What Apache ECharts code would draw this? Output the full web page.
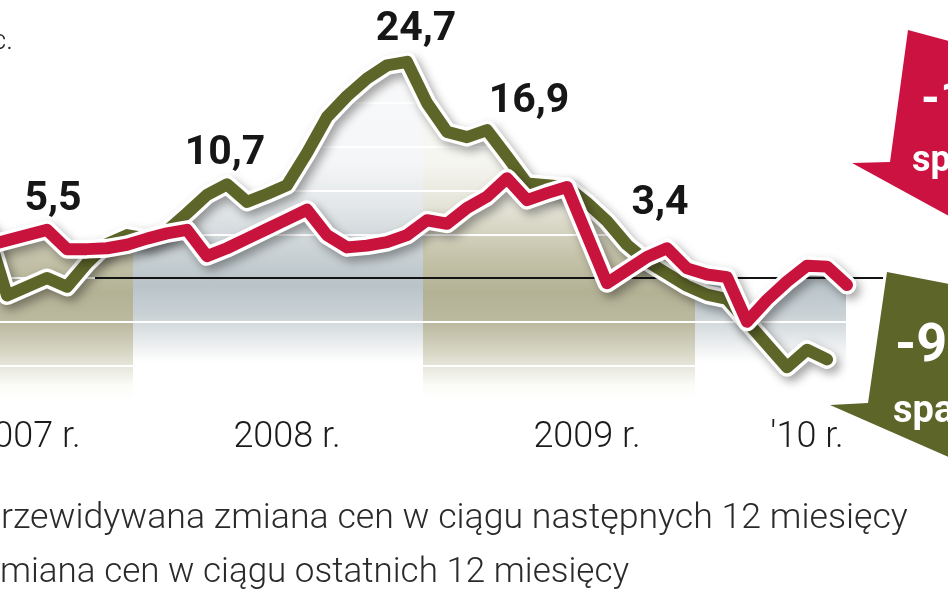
<!DOCTYPE html>
<html lang="pl">
  <head>
    <meta charset="UTF-8" />
    <title>Zmiana cen</title>
    <style>
      html, body { margin: 0; padding: 0; background: #fff; }
      #chart { width: 948px; height: 593px; }
    </style>
  </head>
  <body>
    <div id="chart"></div>
    <script src="https://cdn.jsdelivr.net/npm/echarts@6.0.0/dist/echarts.min.js"></script>
    <script>
      // wartości, kolejne miesiące (proc.)
      var oliveLine = [
        5.5, -2.0, -1.0, 0.0, -1.0, 1.7, 3.9, 4.9, 4.5, 5.4, 7.4, 9.5, 10.7,
        8.7, 9.6, 10.6, 14.3, 18.4, 20.8, 22.8, 24.3, 24.7, 20.0, 16.7, 16.1,
        16.9, 13.9, 10.8, 10.6, 10.4, 8.6, 6.5, 3.8, 1.9, 0.5, -0.9, -1.9,
        -2.4, -5.0, -7.6, -10.2, -8.2, -9.3
      ];
      var redLine = [
        3.7, 4.3, 4.9, 5.5, 3.3, 3.3, 3.4, 3.8, 4.5, 5.1, 5.5, 2.5, 3.4, 4.5,
        5.6, 6.7, 7.8, 4.9, 3.5, 3.7, 4.1, 4.9, 6.6, 6.2, 8.0, 9.3, 11.4, 8.9,
        9.7, 10.4, 4.9, -0.6, 0.9, 2.4, 3.4, 1.1, 0.4, 0.1, -5.0, -2.5, -0.4,
        1.4, 1.3, -0.8
      ];
      var yearLabels = ["2007 r.", "2008 r.", "2009 r.", "'10 r."];
      var yearLabelAt = [2, 15, 30, 41];
      // granice pasów tła (w numerach miesięcy)
      var bandEdges = [0, 7.3, 21.8, 35.4, 42.95];
      var zeroLineSpan = [5.4, 44.8];
      // opisane punkty
      var oliveMarked = [12, 21, 25];
      var redMarked = [3, 34];

      var OLIVE = "#5d6529";
      var RED = "#c8143c";

      // przesunięcia podpisów (styl, nie dane)
      var labelPos = {
        "olive-12": { dx: -2, dist: 10 },
        "olive-21": { dx: 9, dist: 11 },
        "olive-25": { dx: 42, dist: 7 },
        "red-3": { dx: 6, dist: 9 },
        "red-34": { dx: -7, dist: 24 }
      };

      function fmt(v) {
        return v.toFixed(1).replace(".", ",");
      }

      function buildData(values, key, marked) {
        return values.map(function (v, i) {
          if (marked.indexOf(i) < 0) return [i, v];
          var p = labelPos[key + "-" + i];
          return {
            value: [i, v],
            symbol: "circle",
            symbolSize: 1,
            label: {
              show: true,
              position: "top",
              distance: p.dist,
              offset: [p.dx, 0],
              formatter: function () { return fmt(v); },
              color: "#161616",
              fontFamily: "Roboto",
              fontWeight: "bold",
              fontSize: 41
            }
          };
        });
      }

      // górna obwiednia obu linii - powyżej niej tło jest białe
      var envelope = redLine.map(function (r, i) {
        var o = oliveLine[i];
        return [i, o === undefined ? r : Math.max(r, o)];
      });

      var labelMap = {};
      yearLabelAt.forEach(function (at, k) { labelMap[at] = yearLabels[k]; });

      function grad(stops) {
        return {
          type: "linear", x: 0, y: 0, x2: 0, y2: 1,
          colorStops: stops.map(function (s) { return { offset: s[0], color: s[1] }; })
        };
      }
      var oliveFill = grad([
        [0, "#fbfbf9"], [0.38, "#f6f6f1"], [0.5, "#e4e3d7"], [0.62, "#c6c4ab"],
        [0.72, "#b4b295"], [0.8, "#bbb99f"], [0.88, "#dad9c9"], [0.96, "#fbfbf8"], [1, "#ffffff"]
      ]);
      var blueFill = grad([
        [0, "#fbfbfc"], [0.38, "#f5f6f7"], [0.5, "#e2e6e8"], [0.62, "#c9d1d4"],
        [0.7, "#b9c3c8"], [0.78, "#cad2d6"], [0.86, "#eef0f1"], [0.9, "#ffffff"], [1, "#ffffff"]
      ]);

      var bands = [];
      for (var b = 0; b < bandEdges.length - 1; b++) {
        bands.push([
          { xAxis: bandEdges[b], yAxis: 30, itemStyle: { color: b % 2 ? blueFill : oliveFill } },
          { xAxis: bandEdges[b + 1], yAxis: -14 }
        ]);
      }

      var halo = {
        color: "#ffffff",
        width: 19,
        cap: "round",
        join: "round",
        shadowColor: "rgba(0,0,0,0.35)",
        shadowBlur: 10,
        shadowOffsetX: 4,
        shadowOffsetY: 5
      };

      var myChart = echarts.init(document.getElementById("chart"));
      var option = {
        animation: false,
        grid: {
          left: -13, right: 21, top: 15.5, bottom: 183.75,
          containLabel: false,
          outerBoundsMode: "none"
        },
        xAxis: {
          type: "value",
          min: 0,
          max: 47,
          interval: 1,
          axisLine: { show: false },
          axisTick: { show: false },
          splitLine: { show: false },
          axisLabel: {
            margin: 11,
            color: "#1b1b1b",
            fontFamily: "Roboto",
            fontWeight: 300,
            fontSize: 36,
            showMinLabel: true,
            showMaxLabel: true,
            formatter: function (v) { return labelMap[v] || ""; }
          }
        },
        yAxis: {
          type: "value",
          min: -15,
          max: 30,
          interval: 5,
          z: 2,
          axisLine: { show: false },
          axisTick: { show: false },
          axisLabel: { show: false },
          splitLine: { lineStyle: { color: "#ffffff", width: 2 } }
        },
        series: [
          {
            name: "tlo",
            type: "line",
            z: 3,
            data: envelope,
            symbol: "none",
            clip: false,
            lineStyle: { width: 0, opacity: 0 },
            areaStyle: { color: "#ffffff", opacity: 1, origin: "end" },
            markArea: { z: 1, silent: true, data: bands },
            markLine: {
              z: 6,
              silent: true,
              symbol: "none",
              label: { show: false },
              lineStyle: { color: "#141414", width: 2, type: "solid" },
              data: [[{ coord: [zeroLineSpan[0], 0] }, { coord: [zeroLineSpan[1], 0] }]]
            }
          },
          {
            type: "line",
            z: 10,
            data: buildData(oliveLine, "none", []),
            symbol: "none",
            clip: false,
            lineStyle: halo
          },
          {
            type: "line",
            z: 11,
            data: buildData(oliveLine, "olive", oliveMarked),
            symbol: "none",
            clip: false,
            itemStyle: { color: OLIVE },
            lineStyle: { color: OLIVE, width: 12, cap: "round", join: "round" }
          },
          {
            type: "line",
            z: 12,
            data: buildData(redLine, "none", []),
            symbol: "none",
            clip: false,
            lineStyle: halo
          },
          {
            type: "line",
            z: 13,
            data: buildData(redLine, "red", redMarked),
            symbol: "none",
            clip: false,
            itemStyle: { color: RED },
            lineStyle: { color: RED, width: 12, cap: "round", join: "round" }
          }
        ],
        graphic: [
          {
            type: "text", x: 13, y: 42, z: 20,
            style: { text: "w proc.", align: "right", verticalAlign: "middle",
              font: "300 28px Roboto", fill: "#222" }
          },
          {
            type: "text", x: -21, y: 519, z: 20,
            style: { text: "Przewidywana zmiana cen w ciągu następnych 12 miesięcy",
              align: "left", verticalAlign: "middle", font: "300 35.7px Roboto", fill: "#2a2a2a" }
          },
          {
            type: "text", x: -21, y: 573, z: 20,
            style: { text: "Zmiana cen w ciągu ostatnich 12 miesięcy",
              align: "left", verticalAlign: "middle", font: "300 35px Roboto", fill: "#2a2a2a" }
          },
          {
            type: "polygon", z: 20,
            shape: { points: [[908, 30], [960, 44], [960, 222], [852, 163], [890, 162]] },
            style: { fill: "#cc1240" }
          },
          {
            type: "text", x: 921, y: 102, z: 21,
            style: { text: "-11,9", align: "left", verticalAlign: "middle",
              font: "bold 48px Roboto", fill: "#fff" }
          },
          {
            type: "text", x: 912, y: 162, z: 21,
            style: { text: "spadek", align: "left", verticalAlign: "middle",
              font: "bold 36px Roboto", fill: "#fff" }
          },
          {
            type: "polygon", z: 20,
            shape: { points: [[887, 272], [960, 286], [960, 462], [830, 405], [868, 403]] },
            style: { fill: "#5d6529" }
          },
          {
            type: "text", x: 895, y: 347, z: 21,
            style: { text: "-9,6", align: "left", verticalAlign: "middle",
              font: "bold 54px Roboto", fill: "#fff" }
          },
          {
            type: "text", x: 893, y: 412, z: 21,
            style: { text: "spadek", align: "left", verticalAlign: "middle",
              font: "bold 38px Roboto", fill: "#fff" }
          }
        ]
      };
      myChart.setOption(option);
      window.addEventListener("resize", function () {
        myChart.resize();
      });
    </script>
  </body>
</html>
